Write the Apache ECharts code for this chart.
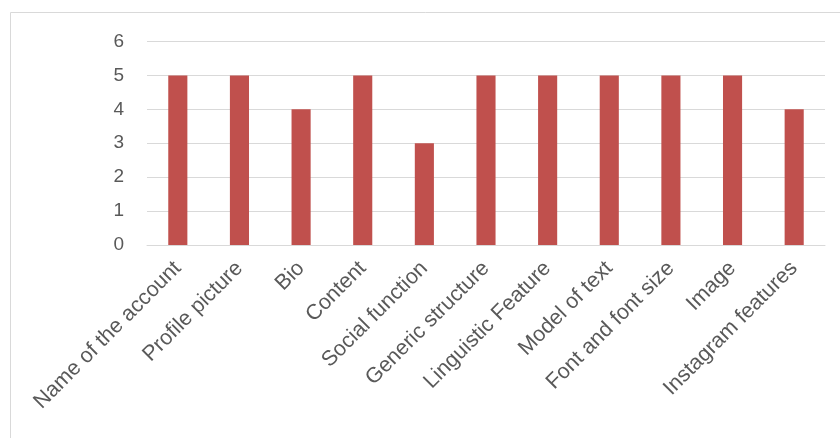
<!DOCTYPE html>
<html><head><meta charset="utf-8">
<script src="https://cdn.jsdelivr.net/npm/echarts@6/dist/echarts.min.js"></script>
<style>html,body{margin:0;padding:0;background:#fff}#c{width:840px;height:438px}</style>
</head><body><div id="c"></div>
<script>
const categories = ["Name of the account","Profile picture","Bio","Content","Social function","Generic structure","Linguistic Feature","Model of text","Font and font size","Image","Instagram features"];
const values = [5,5,4,5,3,5,5,5,5,5,4];
const chart = echarts.init(document.getElementById('c'));
chart.setOption({
  animation:false,
  graphic:[{type:'rect',shape:{x:10.5,y:12.5,width:840,height:440},style:{fill:'none',stroke:'#d9d9d9',lineWidth:1}}],
  grid:{left:147,right:15,top:41.5,bottom:193,containLabel:false},
  xAxis:{type:'category',data:categories,
    axisLine:{lineStyle:{color:'#d9d9d9',width:1}},axisTick:{show:false},
    axisLabel:{rotate:45,interval:0,color:'#595959',fontSize:21.5,fontFamily:'Liberation Sans',margin:20}},
  yAxis:{type:'value',min:0,max:6,interval:1,
    axisLine:{show:false},axisTick:{show:false},
    splitLine:{lineStyle:{color:'#d9d9d9',width:1}},
    axisLabel:{color:'#595959',fontSize:19,fontFamily:'Liberation Sans',margin:23}},
  series:[{type:'bar',data:values,barWidth:'31%',itemStyle:{color:'#C0504D'}}]
});
</script></body></html>
